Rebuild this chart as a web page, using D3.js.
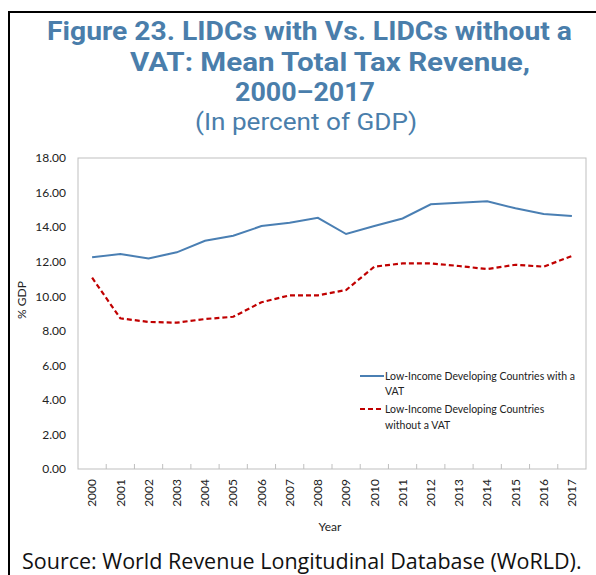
<!DOCTYPE html>
<html>
<head>
<meta charset="utf-8">
<script src="https://cdn.jsdelivr.net/npm/d3@7"></script>
<style>
  html, body { margin: 0; padding: 0; background: #fff; }
  svg { display: block; }
</style>
</head>
<body>
<svg id="chart" width="596" height="575"></svg>
<script>
const years = ["2000","2001","2002","2003","2004","2005","2006","2007","2008","2009","2010","2011","2012","2013","2014","2015","2016","2017"];
const withVAT = [12.25,12.44,12.19,12.54,13.21,13.50,14.06,14.25,14.54,13.60,14.06,14.50,15.32,15.41,15.50,15.09,14.76,14.64];
const withoutVAT = [11.07,8.72,8.51,8.47,8.68,8.81,9.65,10.05,10.05,10.36,11.71,11.90,11.90,11.75,11.57,11.82,11.71,12.33];
const yTicks = [0,2,4,6,8,10,12,14,16,18];
const seriesNames = ["Low-Income Developing Countries with a VAT", "Low-Income Developing Countries without a VAT"];
const titleLines = ["Figure 23. LIDCs with Vs. LIDCs without a", "VAT: Mean Total Tax Revenue,", "2000\u20132017"];
const subtitle = "(In percent of GDP)";
const source = "Source: World Revenue Longitudinal Database (WoRLD).";

const svg = d3.select("#chart");
const blue = "#4a7fb3", red = "#c00000", titleColor = "#4a7eab";

// frame
svg.append("line").attr("x1", 9).attr("x2", 596).attr("y1", 12).attr("y2", 12).attr("stroke", "#000").attr("stroke-width", 2);
svg.append("line").attr("x1", 9).attr("x2", 9).attr("y1", 11).attr("y2", 575).attr("stroke", "#000").attr("stroke-width", 2);

// titles
const titleX = [309.5, 330, 305];
const titleY = [40, 70.5, 100.5];
const titleW = [525, 400, 140];
titleLines.forEach((t, i) => {
  svg.append("text").attr("x", titleX[i]).attr("y", titleY[i]).attr("text-anchor", "middle")
    .attr("font-family", "Roboto, sans-serif").attr("font-weight", "bold").attr("font-size", 26)
    .attr("textLength", titleW[i]).attr("lengthAdjust", "spacingAndGlyphs")
    .attr("fill", titleColor).text(t);
});
svg.append("text").attr("x", 306).attr("y", 129.5).attr("text-anchor", "middle")
  .attr("font-family", "Roboto, sans-serif").attr("font-size", 23)
  .attr("textLength", 222).attr("lengthAdjust", "spacingAndGlyphs")
  .attr("fill", titleColor).text(subtitle);

const m = { left: 78, right: 586, top: 158, bottom: 469 };
const x = d3.scaleBand().domain(years).range([m.left, m.right]);
const y = d3.scaleLinear().domain([0, 18]).range([m.bottom, m.top]);

// plot border
svg.append("rect").attr("x", m.left).attr("y", m.top).attr("width", m.right - m.left).attr("height", m.bottom - m.top)
  .attr("fill", "none").attr("stroke", "#bfbfbf").attr("stroke-width", 1);

// y axis
const yAxis = d3.axisLeft(y).tickValues(yTicks).tickSize(0).tickPadding(12).tickFormat(d3.format(".2f"));
const gy = svg.append("g").attr("transform", `translate(${m.left},0)`).call(yAxis);
gy.select(".domain").remove();
gy.selectAll("text").attr("font-family", "Lato, sans-serif").attr("font-size", 12).attr("fill", "#222");

// x axis ticks at band boundaries (inward)
const bounds = years.slice(1).map(d => x(d));
svg.append("g").selectAll("line").data(bounds).join("line")
  .attr("x1", d => d).attr("x2", d => d).attr("y1", m.bottom).attr("y2", m.bottom - 5)
  .attr("stroke", "#bfbfbf");

const xAxis = d3.axisBottom(x).tickSize(0).tickPadding(0);
const gx = svg.append("g").attr("transform", `translate(0,${m.bottom})`).call(xAxis);
gx.select(".domain").remove();
gx.selectAll("text").attr("font-family", "Lato, sans-serif").attr("font-size", 12).attr("fill", "#222")
  .attr("transform", "rotate(-90)").attr("text-anchor", "end").attr("dy", "0.35em").attr("x", -10).attr("y", 0);

// axis titles
svg.append("text").attr("x", 330).attr("y", 531).attr("text-anchor", "middle")
  .attr("font-family", "Lato, sans-serif").attr("font-size", 12).attr("fill", "#222").text("Year");
svg.append("text").attr("transform", "translate(26,300) rotate(-90)").attr("text-anchor", "middle")
  .attr("font-family", "Lato, sans-serif").attr("font-size", 12).attr("fill", "#222").text("% GDP");

// lines
const line = d3.line().x((d, i) => x(years[i]) + x.bandwidth() / 2).y(d => y(d));
svg.append("path").datum(withVAT).attr("d", line).attr("fill", "none").attr("stroke", blue).attr("stroke-width", 2);
svg.append("path").datum(withoutVAT).attr("d", line).attr("fill", "none").attr("stroke", red).attr("stroke-width", 2.2)
  .attr("stroke-dasharray", "5,3");

// legend
const lg = svg.append("g").attr("font-family", "Lato, sans-serif").attr("font-size", 10.5).attr("fill", "#222");
lg.append("line").attr("x1", 360).attr("x2", 384).attr("y1", 376).attr("y2", 376).attr("stroke", blue).attr("stroke-width", 2);
lg.append("text").attr("x", 385).attr("y", 380).text("Low-Income Developing Countries with a");
lg.append("text").attr("x", 385).attr("y", 395).text("VAT");
lg.append("line").attr("x1", 360).attr("x2", 384).attr("y1", 409).attr("y2", 409).attr("stroke", red).attr("stroke-width", 2.2).attr("stroke-dasharray", "5,3");
lg.append("text").attr("x", 385).attr("y", 413).text("Low-Income Developing Countries");
lg.append("text").attr("x", 385).attr("y", 429).text("without a VAT");

// source
svg.append("text").attr("x", 22).attr("y", 569)
  .attr("font-family", "'Open Sans', sans-serif").attr("font-size", 21.5).attr("fill", "#111").text(source);
</script>
</body>
</html>
